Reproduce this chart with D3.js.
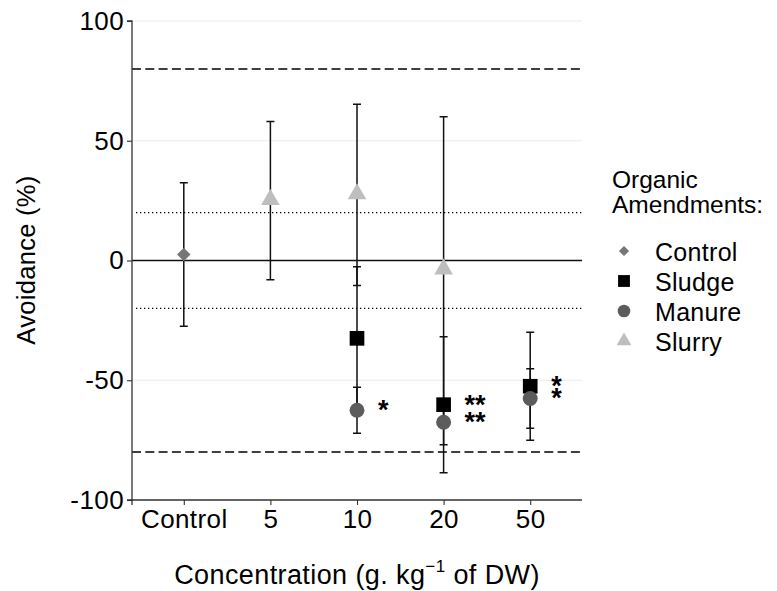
<!DOCTYPE html>
<html>
<head>
<meta charset="utf-8">
<script src="https://cdn.jsdelivr.net/npm/d3@7"></script>
<style>
  body { margin: 0; background: #fff; }
  svg { display: block; font-family: Arial, "Liberation Sans", sans-serif; }
</style>
</head>
<body>
<svg id="chart" width="777" height="591"></svg>
<script>
// ---- data ----
const categories = ["Control", "5", "10", "20", "50"];
const yTicks = [-100, -50, 0, 50, 100];
const seriesNames = ["Control", "Sludge", "Manure", "Slurry"];

const controlCats = ["Control"];
const controlMean = [2.5];
const controlErr = [30];

const sludgeCats = ["10", "20", "50"];
const sludgeMean = [-32.5, -60.2, -52.5];
const sludgeErr = [29.9, 28.4, 22.5];
const sludgeSig = ["", "**", "*"];

const manureCats = ["10", "20", "50"];
const manureMean = [-62.5, -67.5, -57.6];
const manureErr = [9.6, 9.4, 12.4];
const manureSig = ["*", "**", "*"];

const slurryCats = ["5", "10", "20"];
const slurryMean = [25, 27.4, -4];
const slurryErr = [33, 37.8, 64];

const refDashed = [80, -80];
const refDotted = [20, -20];
const gridVals = [100, 50, -50];

// ---- layout ----
const svg = d3.select("#chart");
const L = 132, R = 582, T = 21, B = 500;

const x = d3.scalePoint().domain(categories).range([L, R]).padding(0.598);
const y = d3.scaleLinear().domain([-100, 100]).range([B, T]);

const styles = {
  Control: { color: "#767676", symbol: d3.symbolSquare, rot: 45, size: 90, lsize: 52 },
  Sludge:  { color: "#000000", symbol: d3.symbolSquare, rot: 0, size: 215, lsize: 140 },
  Manure:  { color: "#5c5c5c", symbol: d3.symbolCircle, rot: 0, size: 175, lsize: 125 },
  Slurry:  { color: "#bebebe", symbol: d3.symbolTriangle, rot: 0, size: 150, lsize: 95 }
};

function build(name, cats, means, errs, sig) {
  return cats.map((c, i) => ({ series: name, cat: c, mean: means[i], err: errs[i], sig: sig ? sig[i] : "" }));
}
const data = [].concat(
  build("Control", controlCats, controlMean, controlErr),
  build("Sludge", sludgeCats, sludgeMean, sludgeErr, sludgeSig),
  build("Manure", manureCats, manureMean, manureErr, manureSig),
  build("Slurry", slurryCats, slurryMean, slurryErr)
);

// grid
svg.append("g").selectAll("line").data(gridVals).join("line")
  .attr("x1", L).attr("x2", R).attr("y1", d => y(d)).attr("y2", d => y(d))
  .attr("stroke", "#ebebeb").attr("stroke-width", 1);

// reference lines
svg.append("g").selectAll("line").data(refDashed).join("line")
  .attr("x1", L).attr("x2", R).attr("y1", d => y(d)).attr("y2", d => y(d))
  .attr("stroke", "#000").attr("stroke-width", 1.5).attr("stroke-dasharray", "9,4.3");
svg.append("g").selectAll("line").data(refDotted).join("line")
  .attr("x1", L + 4).attr("x2", R).attr("y1", d => y(d)).attr("y2", d => y(d))
  .attr("stroke", "#000").attr("stroke-width", 1.3).attr("stroke-dasharray", "1.3,2.7");
svg.append("line").attr("x1", L).attr("x2", R).attr("y1", y(0)).attr("y2", y(0))
  .attr("stroke", "#111").attr("stroke-width", 1.4);

// axes
const yAxis = svg.append("g").attr("transform", `translate(${L},0)`)
  .call(d3.axisLeft(y).tickValues(yTicks).tickFormat(d => String(d)).tickSize(5).tickPadding(3));
const xAxis = svg.append("g").attr("transform", `translate(0,${B})`)
  .call(d3.axisBottom(x).tickSize(5).tickPadding(5));
[yAxis, xAxis].forEach(a => {
  a.select(".domain").attr("stroke", "#333").attr("stroke-width", 1.3);
  a.selectAll(".tick line").attr("stroke", "#333").attr("stroke-width", 1.1);
  a.selectAll("text").attr("fill", "#000").style("font-size", "26px")
    .style("letter-spacing", "0.4px")
    .style("font-family", "Arial, 'Liberation Sans', sans-serif");
});
yAxis.select(".domain").attr("d", `M-5,${T}H0V${B}H-5`);
xAxis.select(".domain").attr("d", `M${L},5V0H${R}`);

// error bars
const cap = 4;
const eb = svg.append("g").attr("stroke", "#111").attr("stroke-width", 1.5).attr("fill", "none");
data.forEach(d => {
  const cx = x(d.cat), y1 = y(d.mean + d.err), y2 = y(d.mean - d.err);
  eb.append("path").attr("d", `M${cx},${y1}V${y2}M${cx - cap},${y1}H${cx + cap}M${cx - cap},${y2}H${cx + cap}`);
});

// points
svg.append("g").selectAll("path").data(data).join("path")
  .attr("transform", d => `translate(${x(d.cat)},${y(d.mean) + (d.series === "Slurry" ? -1 : 0)}) rotate(${styles[d.series].rot})`)
  .attr("d", d => d3.symbol().type(styles[d.series].symbol).size(styles[d.series].size)())
  .attr("fill", d => styles[d.series].color);

// significance (one text per category, stacked tspans)
const sigData = d3.groups(data.filter(d => d.sig), d => d.cat);
const sg = svg.append("g").selectAll("text").data(sigData).join("text")
  .attr("font-size", 27).attr("font-weight", "bold").attr("fill", "#000");
sg.each(function ([cat, items]) {
  const t = d3.select(this);
  items.sort((a, b) => b.mean - a.mean).forEach(d => {
    t.append("tspan").attr("x", x(cat) + 21).attr("y", y(d.mean) + 9).text(d.sig);
  });
});

// axis titles
svg.append("text").attr("transform", `translate(35,260) rotate(-90)`)
  .attr("text-anchor", "middle").attr("font-size", 25.5).style("letter-spacing", "0.3px").text("Avoidance (%)");
const xt = svg.append("text").attr("x", 357).attr("y", 584).attr("text-anchor", "middle")
  .attr("font-size", 27).style("letter-spacing", "0.4px");
xt.append("tspan").text("Concentration (g. kg");
xt.append("tspan").attr("dy", -12).attr("font-size", 17).text("\u22121");
xt.append("tspan").attr("dy", 12).text(" of DW)");

// legend
const lg = svg.append("g");
lg.append("text").attr("x", 612).attr("y", 188).attr("font-size", 24.5).text("Organic");
lg.append("text").attr("x", 612).attr("y", 213).attr("font-size", 24.5).text("Amendments:");
seriesNames.forEach((s, i) => {
  const cy = 251 + i * 30;
  lg.append("path").attr("transform", `translate(624,${cy}) rotate(${styles[s].rot})`)
    .attr("d", d3.symbol().type(styles[s].symbol).size(styles[s].lsize)())
    .attr("fill", styles[s].color);
  lg.append("text").attr("x", 655).attr("y", cy + 10).attr("font-size", 25).style("letter-spacing", "0.3px").text(s);
});
</script>
</body>
</html>
